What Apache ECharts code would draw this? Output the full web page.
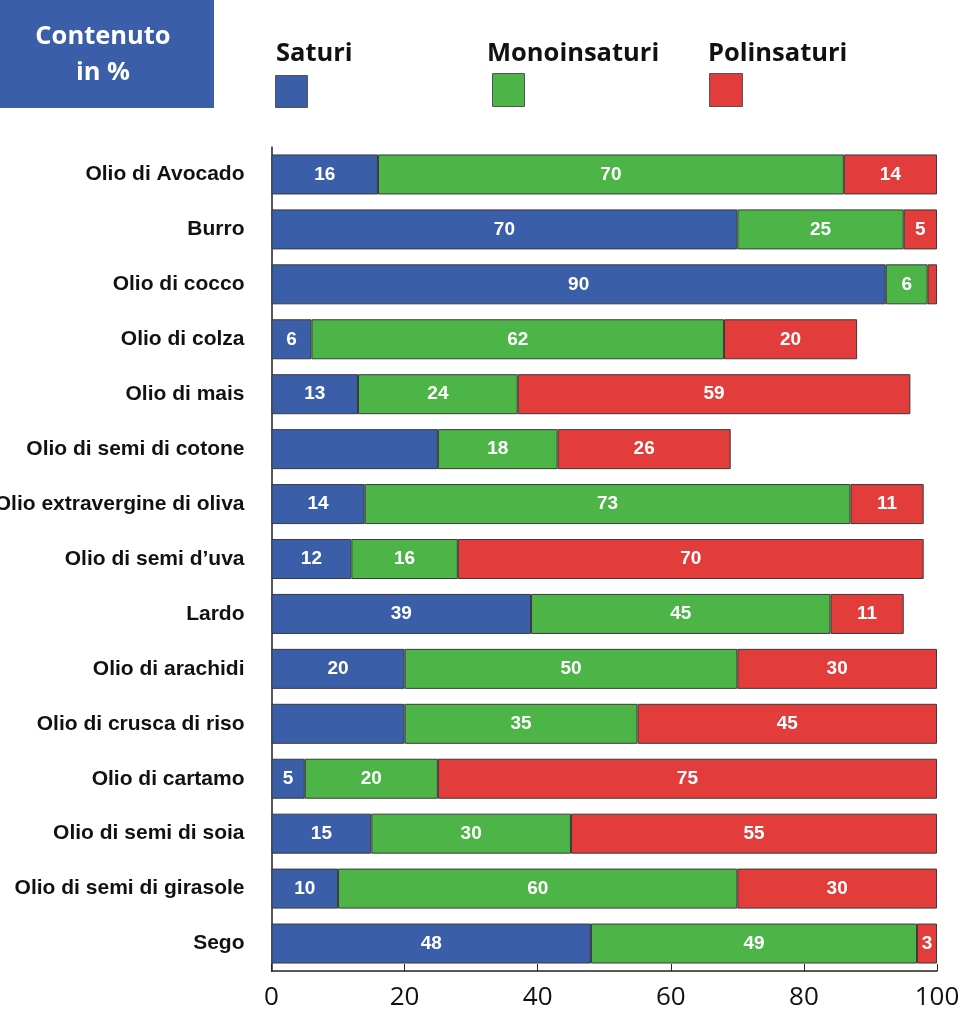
<!DOCTYPE html>
<html>
<head>
<meta charset="utf-8">
<script src="https://cdn.jsdelivr.net/npm/echarts@6/dist/echarts.min.js"></script>
<style>
  html, body { margin: 0; padding: 0; background: #fff; }
  #chart { width: 961px; height: 1024px; }
</style>
</head>
<body>
<div id="chart"></div>
<script>
// categorie (dall'alto verso il basso)
var oli = [
  'Olio di Avocado', 'Burro', 'Olio di cocco', 'Olio di colza', 'Olio di mais',
  'Olio di semi di cotone', 'Olio extravergine di oliva', 'Olio di semi d\u2019uva',
  'Lardo', 'Olio di arachidi', 'Olio di crusca di riso', 'Olio di cartamo',
  'Olio di semi di soia', 'Olio di semi di girasole', 'Sego'
];

// lunghezza delle barre
var saturi        = [16, 70, 92.3, 6, 13, 25, 14, 12, 39, 20, 20, 5, 15, 10, 48];
var monoinsaturi  = [70, 25, 6.3, 62, 24, 18, 73, 16, 45, 50, 35, 20, 30, 60, 49];
var polinsaturi   = [14, 5, 1.4, 20, 59, 26, 11, 70, 11, 30, 45, 75, 55, 30, 3];

// etichette scritte dentro le barre
var saturiLab = ['16', '70', '90', '6', '13', '', '14', '12', '39', '20', '', '5', '15', '10', '48'];
var monoLab   = ['70', '25', '6', '62', '24', '18', '73', '16', '45', '50', '35', '20', '30', '60', '49'];
var poliLab   = ['14', '5', '', '20', '59', '26', '11', '70', '11', '30', '45', '75', '55', '30', '3'];

var xTicks = [0, 20, 40, 60, 80, 100];

var BLUE = '#3b5ea8', GREEN = '#4db447', RED = '#e23c3b';

var chart = echarts.init(document.getElementById('chart'));

function makeSeries(name, data, labels, color) {
  return {
    name: name,
    type: 'bar',
    stack: 'tot',
    barWidth: 40,
    data: data,
    itemStyle: { color: color, borderColor: '#3a3a3a', borderWidth: 1 },
    label: {
      show: true,
      position: 'inside',
      color: '#fff',
      fontFamily: 'Liberation Sans',
      fontWeight: 'bold',
      fontSize: 19,
      formatter: function (p) { return labels[p.dataIndex]; }
    },
    emphasis: { disabled: true }
  };
}

var legendFont = 'bold 25.5px "Open Sans"';

chart.setOption({
  animation: false,
  backgroundColor: '#fff',
  grid: { left: 271.5, right: 24, top: 147, bottom: 53, containLabel: false, outerBoundsMode: 'none' },
  xAxis: {
    type: 'value',
    min: 0, max: 100, interval: 20,
    axisLine: { show: true, lineStyle: { color: '#222', width: 1.5 } },
    axisTick: { show: true, inside: true, length: 7, lineStyle: { color: '#222' } },
    splitLine: { show: false },
    axisLabel: {
      margin: 14, fontSize: 26, color: '#111', fontFamily: 'Open Sans',
      formatter: function (v) { return xTicks.indexOf(v) >= 0 ? String(v) : ''; }
    }
  },
  yAxis: {
    type: 'category',
    data: oli,
    inverse: true,
    axisLine: { show: true, lineStyle: { color: '#222', width: 1.5 } },
    axisTick: { show: false },
    axisLabel: {
      margin: 27, fontSize: 21, fontWeight: 'bold', color: '#111',
      fontFamily: 'Liberation Sans', padding: [6, 0, 0, 0]
    }
  },
  graphic: [
    { type: 'rect', shape: { x: 0, y: 0, width: 214, height: 108 }, style: { fill: BLUE } },
    { type: 'text', x: 103, y: 55,
      style: { text: 'Contenuto\nin %', fill: '#fff', font: legendFont, align: 'center',
               verticalAlign: 'middle', lineHeight: 36 } },
    { type: 'text', x: 276, y: 54,
      style: { text: 'Saturi', fill: '#111', font: legendFont, verticalAlign: 'middle' } },
    { type: 'rect', shape: { x: 275.5, y: 75.5, width: 32, height: 32 },
      style: { fill: BLUE, stroke: '#555', lineWidth: 1 } },
    { type: 'text', x: 487, y: 54,
      style: { text: 'Monoinsaturi', fill: '#111', font: legendFont, verticalAlign: 'middle' } },
    { type: 'rect', shape: { x: 492.5, y: 73.5, width: 32, height: 33 },
      style: { fill: GREEN, stroke: '#555', lineWidth: 1 } },
    { type: 'text', x: 708, y: 54,
      style: { text: 'Polinsaturi', fill: '#111', font: legendFont, verticalAlign: 'middle' } },
    { type: 'rect', shape: { x: 709.5, y: 73.5, width: 33, height: 33 },
      style: { fill: RED, stroke: '#555', lineWidth: 1 } }
  ],
  series: [
    makeSeries('Saturi', saturi, saturiLab, BLUE),
    makeSeries('Monoinsaturi', monoinsaturi, monoLab, GREEN),
    makeSeries('Polinsaturi', polinsaturi, poliLab, RED)
  ]
});
</script>
</body>
</html>
